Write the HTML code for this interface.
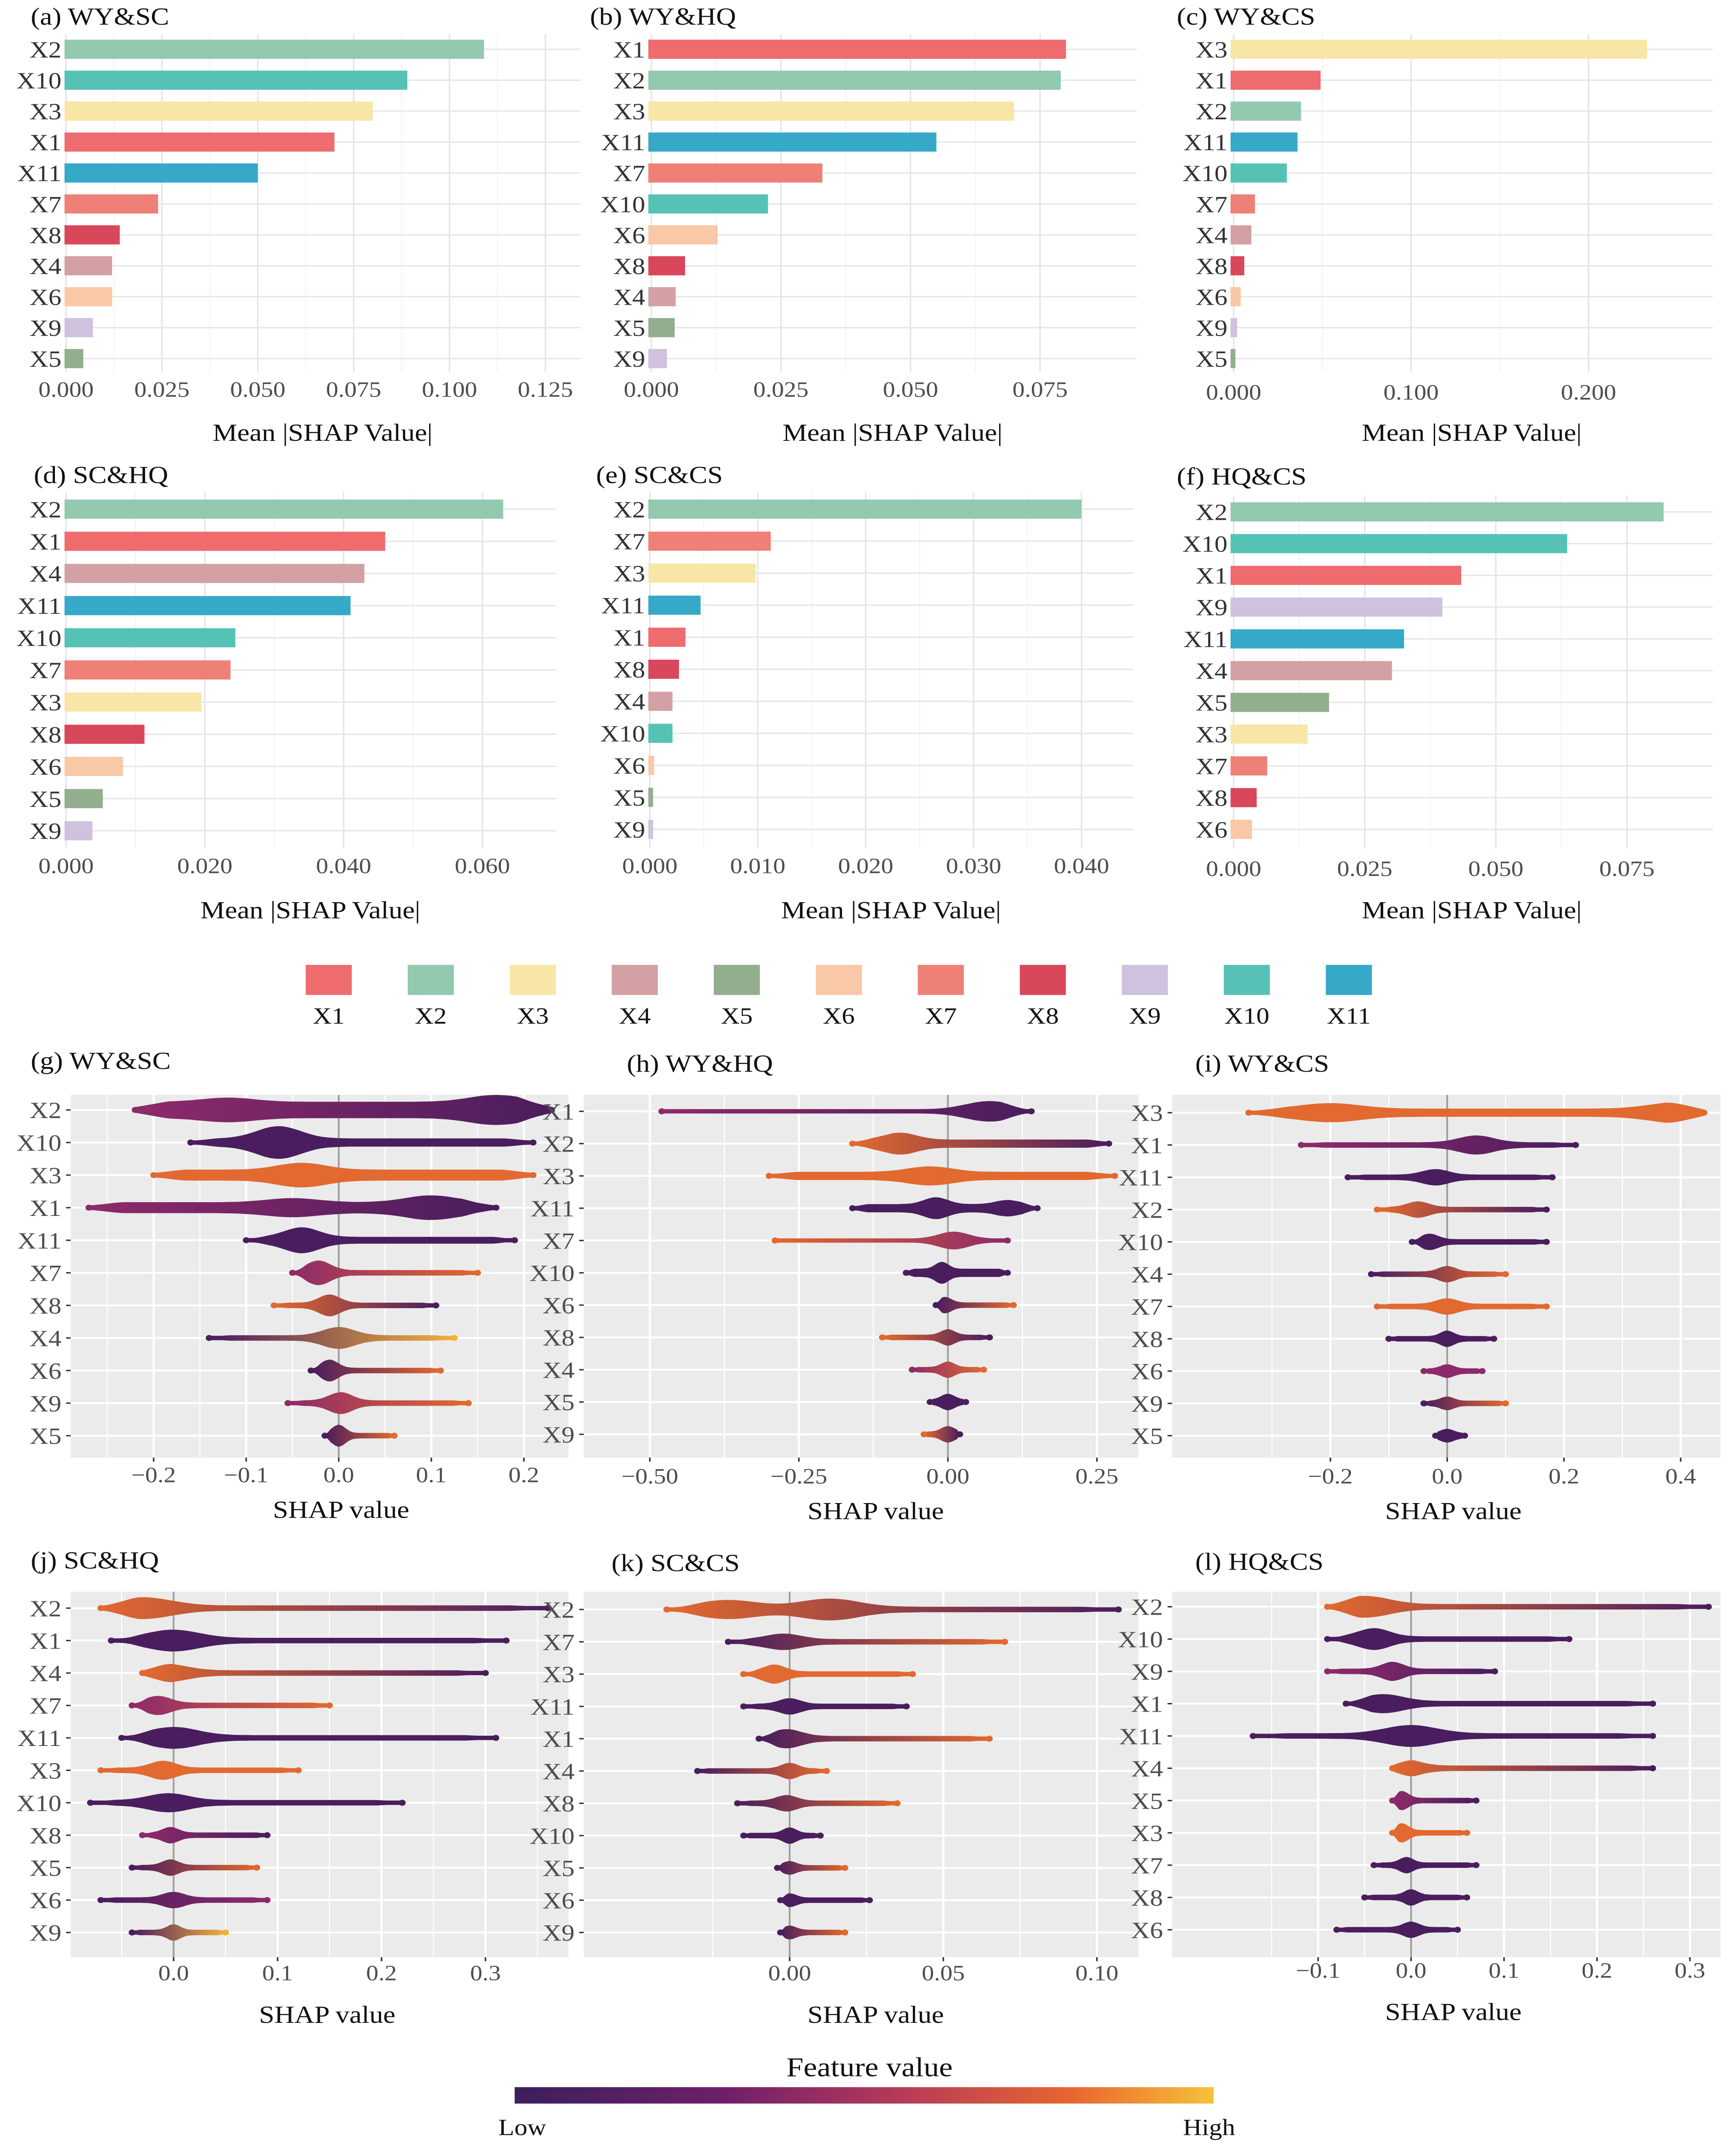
<!DOCTYPE html>
<html><head><meta charset="utf-8">
<meta name="viewport" content="width=4045">
<style>
html,body{margin:0;padding:0;background:#fff;width:100%;height:100%;overflow:hidden;}
svg{display:block;position:fixed;left:0;top:0;width:100vw;height:100vh;font-family:"Liberation Serif",serif;}
</style></head>
<body>
<svg id="fig" xmlns="http://www.w3.org/2000/svg" viewBox="0 0 1130 1568" preserveAspectRatio="none" overflow="hidden">
<defs id="defs">
<linearGradient id="cbar" x1="0" x2="1" y1="0" y2="0">
<stop offset="0" stop-color="#3b1f5c"/><stop offset="0.3" stop-color="#6f1f6a"/><stop offset="0.55" stop-color="#b63a5a"/><stop offset="0.8" stop-color="#e8672f"/><stop offset="1" stop-color="#f6c23a"/>
</linearGradient>
</defs>
<g id="root"></g>
</svg>
<script>
const NS="http://www.w3.org/2000/svg";
const root=document.getElementById('root');
const defs=document.getElementById('defs');
function mk(tag,attrs,parent,text){const e=document.createElementNS(NS,tag);for(const k in attrs)e.setAttribute(k,attrs[k]);if(text!==undefined)e.textContent=text;(parent||root).appendChild(e);return e;}

const featColors={X1:"#EE6B6E",X2:"#93C9AE",X3:"#F8E6A6",X4:"#D3A1A3",X5:"#93AE8E",X6:"#F9C8A6",X7:"#EF8077",X8:"#D9475B",X9:"#CEC2DE",X10:"#56C2B6",X11:"#35A9C7"};
const pal={P:"#4a1d5e",M:"#8e2a6a",O:"#e2692f",Y:"#f2b13b"};

const barA_feats=["X2","X10","X3","X1","X11","X7","X8","X4","X6","X9","X5"];
const barA_vals=[0.109,0.089,0.080,0.070,0.050,0.024,0.014,0.012,0.012,0.007,0.0045];
const barA_ticks=[0,0.025,0.05,0.075,0.1,0.125];
const barA_tickLabels=["0.000","0.025","0.050","0.075","0.100","0.125"];
const barB_feats=["X1","X2","X3","X11","X7","X10","X6","X8","X4","X5","X9"];
const barB_vals=[0.080,0.079,0.070,0.055,0.033,0.0225,0.0128,0.0065,0.0047,0.0045,0.003];
const barB_ticks=[0,0.025,0.05,0.075];
const barB_tickLabels=["0.000","0.025","0.050","0.075"];
const barC_feats=["X3","X1","X2","X11","X10","X7","X4","X8","X6","X9","X5"];
const barC_vals=[0.233,0.049,0.038,0.036,0.030,0.012,0.010,0.006,0.004,0.002,0.001];
const barC_ticks=[0,0.1,0.2];
const barC_tickLabels=["0.000","0.100","0.200"];
const barD_feats=["X2","X1","X4","X11","X10","X7","X3","X8","X6","X5","X9"];
const barD_vals=[0.063,0.046,0.043,0.041,0.0244,0.0237,0.0195,0.0113,0.0082,0.0053,0.0038];
const barD_ticks=[0,0.02,0.04,0.06];
const barD_tickLabels=["0.000","0.020","0.040","0.060"];
const barE_feats=["X2","X7","X3","X11","X1","X8","X4","X10","X6","X5","X9"];
const barE_vals=[0.040,0.0112,0.0098,0.0047,0.0033,0.0027,0.0021,0.0021,0.0004,0.0003,0.0003];
const barE_ticks=[0,0.01,0.02,0.03,0.04];
const barE_tickLabels=["0.000","0.010","0.020","0.030","0.040"];
const barF_feats=["X2","X10","X1","X9","X11","X4","X5","X3","X7","X8","X6"];
const barF_vals=[0.082,0.0636,0.0434,0.0398,0.0325,0.0302,0.0182,0.0141,0.0064,0.0044,0.0035];
const barF_ticks=[0,0.025,0.05,0.075];
const barF_tickLabels=["0.000","0.025","0.050","0.075"];

const swG_feats=["X2","X10","X3","X1","X11","X7","X8","X4","X6","X9","X5"];
const swG_rows=[[-0.22,0.23,0.17,5,6,"M","P",-0.12,3],[-0.16,0.21,-0.065,9,3,"P","P"],[-0.2,0.21,-0.04,5,4,"O","O"],[-0.27,0.17,0.1,5,4,"M","P",-0.05,3],[-0.1,0.19,-0.04,7,2.5,"P","P"],[-0.05,0.15,-0.022,7,2,"M","O"],[-0.07,0.105,-0.01,6,2,"O","P"],[-0.14,0.125,0,6,2,"P","Y"],[-0.03,0.11,-0.01,6,2,"P","O"],[-0.055,0.14,0.002,6,2,"M","O"],[-0.015,0.06,0,6,2,"P","O"]];
const swG_ticks=[-0.2,-0.1,0,0.1,0.2];
const swG_tickLabels=["\u22120.2","\u22120.1","0.0","0.1","0.2"];
const swH_feats=["X1","X2","X3","X11","X7","X10","X6","X8","X4","X5","X9"];
const swH_rows=[[-0.48,0.14,0.07,6,1.5,"M","P"],[-0.16,0.27,-0.08,5,3,"O","P"],[-0.3,0.28,-0.03,4,3,"O","O"],[-0.16,0.15,-0.02,5,3,"P","P",0.1,3],[-0.29,0.1,0.01,5,1.5,"O","M"],[-0.07,0.1,-0.01,5,3,"P","P"],[-0.02,0.11,-0.005,4,2,"P","O"],[-0.11,0.07,0,4,2,"O","P"],[-0.06,0.06,0,4,2,"M","O"],[-0.03,0.03,0,4,2,"P","P"],[-0.04,0.02,0,4,2,"O","P"]];
const swH_ticks=[-0.5,-0.25,0,0.25];
const swH_tickLabels=["\u22120.50","\u22120.25","0.00","0.25"];
const swI_feats=["X3","X1","X11","X2","X10","X4","X7","X8","X6","X9","X5"];
const swI_rows=[[-0.34,0.44,-0.2,4,3,"O","O",0.4,5],[-0.25,0.22,0.05,5,2,"M","P"],[-0.17,0.18,-0.02,4,2,"P","P"],[-0.12,0.17,-0.05,4,2,"O","P"],[-0.06,0.17,-0.03,4,2,"P","P"],[-0.13,0.1,0,4,2,"P","O"],[-0.12,0.17,0,4,2,"O","O"],[-0.1,0.08,0,4,2,"P","P"],[-0.04,0.06,0,3,2,"M","M"],[-0.04,0.1,0,3,2,"P","O"],[-0.02,0.03,0,3,2,"P","P"]];
const swI_ticks=[-0.2,0,0.2,0.4];
const swI_tickLabels=["\u22120.2","0.0","0.2","0.4"];
const swJ_feats=["X2","X1","X4","X7","X11","X3","X10","X8","X5","X6","X9"];
const swJ_rows=[[-0.07,0.36,-0.03,6,2,"O","P"],[-0.06,0.32,0,6,2,"P","P"],[-0.03,0.3,-0.01,5,2,"O","P"],[-0.04,0.15,-0.015,5,2,"M","O"],[-0.05,0.31,0,6,2,"P","P"],[-0.07,0.12,-0.01,5,2,"O","O"],[-0.08,0.22,-0.005,5,2,"P","P"],[-0.03,0.09,-0.003,4,2,"M","P"],[-0.04,0.08,-0.003,4,2,"P","O"],[-0.07,0.09,0,4,2,"P","M"],[-0.04,0.05,0,4,2,"P","Y"]];
const swJ_ticks=[0,0.1,0.2,0.3];
const swJ_tickLabels=["0.0","0.1","0.2","0.3"];
const swK_feats=["X2","X7","X3","X11","X1","X4","X8","X10","X5","X6","X9"];
const swK_rows=[[-0.04,0.107,-0.02,5,2,"O","P",0.013,6],[-0.02,0.07,-0.002,4,2,"P","O"],[-0.015,0.04,-0.005,5,2,"O","O"],[-0.015,0.038,0,4,2,"P","P"],[-0.01,0.065,-0.001,5,2,"P","O"],[-0.03,0.012,0,4,2,"P","O"],[-0.017,0.035,-0.001,4,2,"P","O"],[-0.015,0.01,0,4,2,"P","P"],[-0.004,0.018,0,3,2,"P","O"],[-0.003,0.026,0,3,2,"P","P"],[-0.003,0.018,0,3,2,"P","O"]];
const swK_ticks=[0,0.05,0.1];
const swK_tickLabels=["0.00","0.05","0.10"];
const swL_feats=["X2","X10","X9","X1","X11","X4","X5","X3","X7","X8","X6"];
const swL_rows=[[-0.09,0.32,-0.05,6,2,"O","P"],[-0.09,0.17,-0.04,6,2,"P","P"],[-0.09,0.09,-0.02,5,2,"M","P"],[-0.07,0.26,-0.03,5,2,"P","P"],[-0.17,0.26,0,6,2,"P","P"],[-0.02,0.26,-0.01,5,2,"O","P"],[-0.02,0.07,-0.01,5,2,"M","P"],[-0.02,0.06,-0.01,5,2,"O","O"],[-0.04,0.07,-0.005,4,2,"P","P"],[-0.05,0.06,0,4,2,"P","P"],[-0.08,0.05,0,4,2,"P","P"]];
const swL_ticks=[-0.1,0,0.1,0.2,0.3];
const swL_tickLabels=["\u22120.1","0.0","0.1","0.2","0.3"];

const legendFeats=["X1","X2","X3","X4","X5","X6","X7","X8","X9","X10","X11"];

function barPanel(id,title,tx,ty,L,R,T,B,x0,tv,tpx,feats,vals,ticks,tlabels,ylTop,ylBot,tickY,axY){
  const g=mk('g',{});
  
  
  const sx=v=>x0+(tpx-x0)*v/tv;
  const step=(ylBot-ylTop)/(feats.length-1);
  for(let i=0;i<ticks.length;i++){
    mk('line',{x1:sx(ticks[i]),x2:sx(ticks[i]),y1:T,y2:B,stroke:"#e6e6e6","stroke-width":1},g);
    if(i<ticks.length-1){const m=(ticks[i]+ticks[i+1])/2;mk('line',{x1:sx(m),x2:sx(m),y1:T,y2:B,stroke:"#f2f2f2","stroke-width":0.6},g);}
  }
  feats.forEach((f,i)=>{const y=ylTop+i*step;mk('line',{x1:L,x2:R,y1:y,y2:y,stroke:"#e6e6e6","stroke-width":1},g);});
  feats.forEach((f,i)=>{
    const y=ylTop+i*step;
    const r=mk('rect',{x:L,y:y-7,width:Math.max(0.5,sx(vals[i])-L),height:14,fill:featColors[f]},g);
    
    
    const t=mk('text',{x:L-2,y:y+6,"text-anchor":"end","font-size":17,fill:"#333"},g,f);
    
    
  });
  ticks.forEach((v,i)=>{
    const t=mk('text',{x:sx(v),y:tickY,"text-anchor":"middle","font-size":16,fill:"#4d4d4d"},g,tlabels[i]);
    
    
  });
  const at=mk('text',{x:(L+R)/2,y:axY,"text-anchor":"middle","font-size":18,fill:"#111"},g,"Mean |SHAP Value|");
  
  
  const pt=mk('text',{x:tx,y:ty,"font-size":18,fill:"#111"},g,title);
  
  
}
barPanel('panel-a',"(a) WY&SC",20,18,42,378,25,272,43,0.125,355,barA_feats,barA_vals,barA_ticks,barA_tickLabels,36,262,290,322);
barPanel('panel-b',"(b) WY&HQ",384,18,422,740,25,272,424,0.075,677,barB_feats,barB_vals,barB_ticks,barB_tickLabels,36,262,290,322);
barPanel('panel-c',"(c) WY&CS",766,18,801,1115,25,272,803,0.2,1034,barC_feats,barC_vals,barC_ticks,barC_tickLabels,36,262,292,322);
barPanel('panel-d',"(d) SC&HQ",22,353,42,362,360,620,43,0.06,314,barD_feats,barD_vals,barD_ticks,barD_tickLabels,372,607,638,671);
barPanel('panel-e',"(e) SC&CS",388,353,422,738,360,620,423,0.04,704,barE_feats,barE_vals,barE_ticks,barE_tickLabels,372,606,638,671);
barPanel('panel-f',"(f) HQ&CS",766,354,801,1115,362,620,803,0.075,1059,barF_feats,barF_vals,barF_ticks,barF_tickLabels,374,606,640,671);

(function(){
  const g=mk('g',{});
  
  
  legendFeats.forEach((f,i)=>{
    const cx=214+i*66.4;
    const e=mk('g',{},g);
    
    
    mk('rect',{x:cx-15,y:705,width:30,height:22,fill:featColors[f]},e);
    mk('text',{x:cx,y:748,"text-anchor":"middle","font-size":17,fill:"#111"},e,f);
  });
})();

let gid=0;
function swarmPanel(id,title,tx,ty,L,R,T,B,x0,tv,tpx,feats,rows,ticks,tlabels,ylTop,ylBot,tickY,axY,axX){
  const g=mk('g',{});
  
  
  const sx=v=>x0+(tpx-x0)*v/tv;
  const step=(ylBot-ylTop)/(feats.length-1);
  mk('rect',{x:L,y:T,width:R-L,height:B-T,fill:"#ebebeb"},g);
  const dt=ticks[1]-ticks[0];
  for(let v=ticks[0]-dt/2;v<=ticks[ticks.length-1]+dt;v+=dt/2){
    const x=sx(v); if(x<L||x>R) continue;
    const major=Math.abs((v-ticks[0])/dt-Math.round((v-ticks[0])/dt))<1e-6;
    mk('line',{x1:x,x2:x,y1:T,y2:B,stroke:"#fff","stroke-width":major?1.4:0.7},g);
  }
  feats.forEach((f,i)=>{const y=ylTop+i*step;mk('line',{x1:L,x2:R,y1:y,y2:y,stroke:"#fff","stroke-width":1.4},g);});
  mk('line',{x1:sx(0),x2:sx(0),y1:T,y2:B,stroke:"#9e9e9e","stroke-width":1.2},g);
  rows.forEach((r,i)=>{
    const y=ylTop+i*step;
    const [mn,mx,pk,pw,base,cl,cr,pk2,pw2]=r;
    const xa=sx(mn),xb=sx(mx),sig=Math.max(6,(xb-xa)*0.09);
    const gidS='sg'+(gid++);
    const lg=mk('linearGradient',{id:gidS,x1:0,x2:1,y1:0,y2:0},defs);
    mk('stop',{offset:0,"stop-color":pal[cl]},lg);mk('stop',{offset:1,"stop-color":pal[cr]},lg);
    const N=60,top=[],bot=[];
    for(let k=0;k<=N;k++){
      const x=xa+(xb-xa)*k/N;
      let w=base+pw*Math.exp(-Math.pow((x-sx(pk))/sig,2));
      if(pk2!==undefined) w+=pw2*Math.exp(-Math.pow((x-sx(pk2))/sig,2));
      const edge=Math.min(x-xa,xb-x);
      w=Math.max(1.6,w*Math.min(1,0.35+edge/((xb-xa)*0.12)));
      top.push(x.toFixed(1)+','+(y-w).toFixed(1));bot.unshift(x.toFixed(1)+','+(y+w).toFixed(1));
    }
    const p=mk('polygon',{points:top.concat(bot).join(' '),fill:'url(#'+gidS+')'},g);
    
    
    mk('circle',{cx:xa,cy:y,r:2.2,fill:pal[cl]},g);
    mk('circle',{cx:xb,cy:y,r:2.2,fill:pal[cr]},g);
    const t=mk('text',{x:L-6,y:y+6,"text-anchor":"end","font-size":17,fill:"#4d4d4d"},g,feats[i]);
    
    
    mk('line',{x1:L-3,x2:L,y1:y,y2:y,stroke:"#333","stroke-width":1},g);
  });
  ticks.forEach((v,i)=>{
    mk('line',{x1:sx(v),x2:sx(v),y1:B,y2:B+3,stroke:"#333","stroke-width":1},g);
    const t=mk('text',{x:sx(v),y:tickY,"text-anchor":"middle","font-size":16,fill:"#4d4d4d"},g,tlabels[i]);
    
    
  });
  const at=mk('text',{x:axX,y:axY,"text-anchor":"middle","font-size":18,fill:"#111"},g,"SHAP value");
  
  
  const pt=mk('text',{x:tx,y:ty,"font-size":18,fill:"#111"},g,title);
  
  
}
swarmPanel('panel-g',"(g) WY&SC",20,781,46,370,800,1065,220.5,0.2,341,swG_feats,swG_rows,swG_ticks,swG_tickLabels,811,1049,1083,1109,222);
swarmPanel('panel-h',"(h) WY&HQ",408,783,380,741,800,1065,617,0.25,714,swH_feats,swH_rows,swH_ticks,swH_tickLabels,812,1048,1084,1110,570);
swarmPanel('panel-i',"(i) WY&CS",778,783,763,1120,800,1065,942,0.4,1094,swI_feats,swI_rows,swI_ticks,swI_tickLabels,813,1049,1084,1110,946);
swarmPanel('panel-j',"(j) SC&HQ",20,1146,46,370,1163,1430,113,0.3,316,swJ_feats,swJ_rows,swJ_ticks,swJ_tickLabels,1175,1412,1447,1478,213);
swarmPanel('panel-k',"(k) SC&CS",398,1148,380,741,1163,1430,514,0.1,714,swK_feats,swK_rows,swK_ticks,swK_tickLabels,1176,1412,1447,1478,570);
swarmPanel('panel-l',"(l) HQ&CS",778,1147,763,1120,1163,1430,918.5,0.3,1100,swL_feats,swL_rows,swL_ticks,swL_tickLabels,1174,1410,1445,1476,946);

(function(){
  const g=mk('g',{});
  
  
  mk('text',{x:566,y:1517,"text-anchor":"middle","font-size":20,fill:"#111"},g,"Feature value");
  mk('rect',{x:335,y:1525,width:455,height:12,fill:"url(#cbar)"},g);
  mk('text',{x:340,y:1560,"text-anchor":"middle","font-size":17,fill:"#111"},g,"Low");
  mk('text',{x:787,y:1560,"text-anchor":"middle","font-size":17,fill:"#111"},g,"High");
})();
</script>
</body></html>
